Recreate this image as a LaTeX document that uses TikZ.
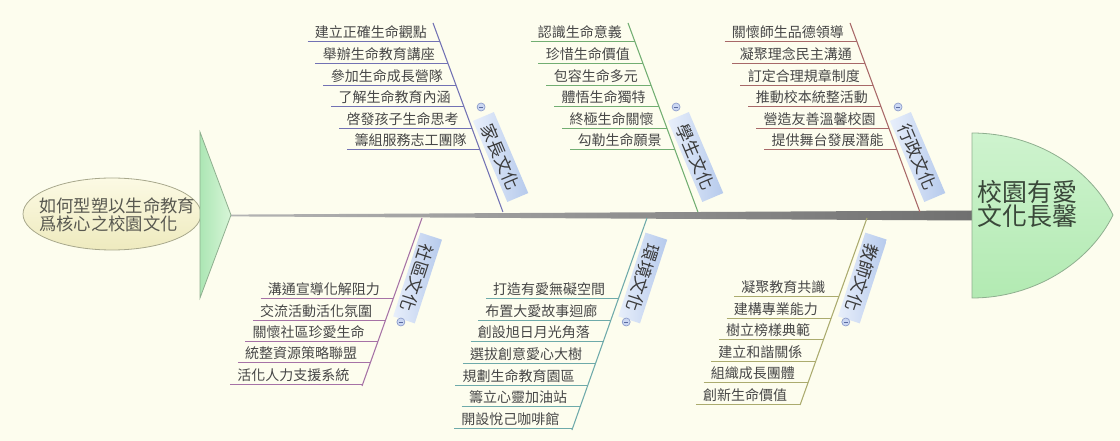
\documentclass[tikz,border=0pt]{standalone}
\usepackage{fontspec}
\setmainfont{Noto Sans CJK TC}
\usetikzlibrary{calc,shapes.geometric}
\definecolor{bgc}{HTML}{FDFDEE}
\definecolor{itemtxt}{HTML}{474747}
\definecolor{lbltxt}{HTML}{3A3A3A}
\definecolor{lblA}{HTML}{E8EFFB}
\definecolor{lblB}{HTML}{B6CAEC}
\definecolor{cjz}{HTML}{7272B4}
\definecolor{cxs}{HTML}{72AE72}
\definecolor{cxz}{HTML}{A86868}
\definecolor{csq}{HTML}{A672A6}
\definecolor{chj}{HTML}{6EAAAA}
\definecolor{cjs}{HTML}{ABAB6E}
\definecolor{greenedge}{HTML}{8FAF8F}
\tikzset{
  item/.style={font=\fontsize{10.5}{12}\selectfont, text=itemtxt, inner sep=0pt},
  itemline/.style={line width=0.75pt},
  slantline/.style={line width=0.8pt},
  lbl/.style={font=\fontsize{13}{15}\selectfont, text=lbltxt, inner xsep=7pt, inner ysep=2.5pt, left color=lblA, right color=lblB},
  minus/.style={circle, minimum size=6pt, inner sep=0pt, fill={rgb,255:red,203;green,215;blue,242}, draw={rgb,255:red,140;green,156;blue,203}, line width=0.5pt},
  minusbar/.style={line width=0.6pt, draw={rgb,255:red,90;green,106;blue,160}}
}
% upper branch: name, top x, colour, label, items
\newcommand\upbranch[5]{%
  \coordinate (#1top) at (#2,23);
  \coordinate (#1bot) at ({#2+0.37*189},212);
  \draw[slantline,#3] (#1top) -- (#1bot);
  \foreach \itm [count=\i] in {#5}{%
    \pgfmathsetmacro\yy{42+(\i-1)*21.6}%
    \pgfmathsetmacro\xx{#2+0.37*(\yy-23)}%
    \coordinate (#1e\i) at (\xx,\yy);
    \node[item,anchor=base east] (#1t\i) at ($(#1e\i)+(-13,-4)$) {\itm};
    \draw[itemline,#3] ($(#1t\i.west |- #1e\i)+(-7,0)$) -- (#1e\i);
  }
  \pgfmathsetmacro\lx{#2+0.37*134+18}
  \node[lbl,rotate=-67] (#1lab) at (\lx,157) {#4};
  \pgfmathsetmacro\cx{#2+0.37*84+17}
  \node[minus] (#1min) at (\cx,107) {};
  \draw[minusbar] ($(#1min.center)+(-2.2,0)$) -- ($(#1min.center)+(2.2,0)$);
}
% lower branch: name, top x, slope, first y, step, bottom y, colour, label, items
\newcommand\lowbranch[9]{%
  \coordinate (#1top) at (#2,218);
  \coordinate (#1bot) at ({#2+(#3)*(#6-218)},#6);
  \draw[slantline,#7] (#1top) -- (#1bot);
  \foreach \itm [count=\i] in {#9}{%
    \pgfmathsetmacro\yy{#4+(\i-1)*#5}%
    \pgfmathsetmacro\xx{#2+(#3)*(\yy-218)}%
    \coordinate (#1e\i) at (\xx,\yy);
    \node[item,anchor=base east] (#1t\i) at ($(#1e\i)+(-13,-4)$) {\itm};
    \draw[itemline,#7] ($(#1t\i.west |- #1e\i)+(-7,0)$) -- (#1e\i);
  }
  \pgfmathsetmacro\lx{#2+(#3)*60+17}
  \node[lbl,rotate=-108] (#1lab) at (\lx,278) {#8};
  \pgfmathsetmacro\cx{#2+(#3)*104+16}
  \node[minus] (#1min) at (\cx,322) {};
  \draw[minusbar] ($(#1min.center)+(-2.2,0)$) -- ($(#1min.center)+(2.2,0)$);
}
\begin{document}
\begin{tikzpicture}[x=0.75pt,y=-0.75pt]
\useasboundingbox (0,0) rectangle (1120,441);
\fill[bgc] (0,0) rectangle (1120,441);
% spine
\shade[left color={rgb,255:red,180;green,180;blue,180}, right color={rgb,255:red,112;green,112;blue,112}]
  (231,214.6) -- (972,210.5) -- (972,220.5) -- (231,216.4) -- cycle;
% branches
\upbranch{jz}{433}{cjz}{家長文化}{建立正確生命觀點,舉辦生命教育講座,參加生命成長營隊,了解生命教育內涵,啓發孩子生命思考,籌組服務志工團隊}
\upbranch{xs}{628}{cxs}{學生文化}{認識生命意義,珍惜生命價值,包容生命多元,體悟生命獨特,終極生命關懷,勾勒生命願景}
\upbranch{xz}{850}{cxz}{行政文化}{關懷師生品德領導,凝聚理念民主溝通,訂定合理規章制度,推動校本統整活動,營造友善溫馨校園,提供舞台發展潛能}
\lowbranch{sq}{422}{-0.357}{299}{21.25}{386}{csq}{社區文化}{溝通宣導化解阻力,交流活動活化氛圍,關懷社區珍愛生命,統整資源策略聯盟,活化人力支援系統}
\lowbranch{hj}{647}{-0.354}{299}{21.5}{430}{chj}{環境文化}{打造有愛無礙空間,布置大愛故事迴廊,創設旭日月光角落,選拔創意愛心大樹,規劃生命教育園區,籌立心靈加油站,開設悅己咖啡館}
\lowbranch{js}{867}{-0.358}{297}{21.4}{405}{cjs}{教師文化}{凝聚教育共識,建構專業能力,樹立榜樣典範,建立和諧關係,組織成長團體,創新生命價值}
% left question ellipse
\node[ellipse, minimum width=133.5pt, minimum height=54pt, draw={rgb,255:red,168;green,168;blue,140}, line width=0.6pt,
  top color={rgb,255:red,252;green,250;blue,228}, bottom color={rgb,255:red,238;green,234;blue,190}] (q) at (112,214) {};
\node[align=left, font=\fontsize{13}{13.2}\selectfont, text={rgb,255:red,88;green,88;blue,80}, inner sep=0pt] (qt) at (117,215)
  {如何型塑以生命教育\\爲核心之校園文化};
% tail triangle
\shade[left color={rgb,255:red,172;green,230;blue,180}, right color={rgb,255:red,216;green,246;blue,216}, draw=greenedge, line width=0.6pt]
  (200,132) -- (231,215) -- (200,298) -- cycle;
% head
\shade[top color={rgb,255:red,206;green,243;blue,206}, bottom color={rgb,255:red,178;green,234;blue,178}, draw=greenedge, line width=0.6pt]
  (972,133) .. controls (1035,133) and (1090,168) .. (1113,215)
  .. controls (1090,262) and (1035,298) .. (972,298) -- cycle;
\node[align=left, anchor=west, font=\fontsize{18.7}{18.5}\selectfont, text={rgb,255:red,58;green,72;blue,58}, inner sep=0pt] (ht) at (977,204)
  {校園有愛\\文化長馨};
\end{tikzpicture}
\end{document}
